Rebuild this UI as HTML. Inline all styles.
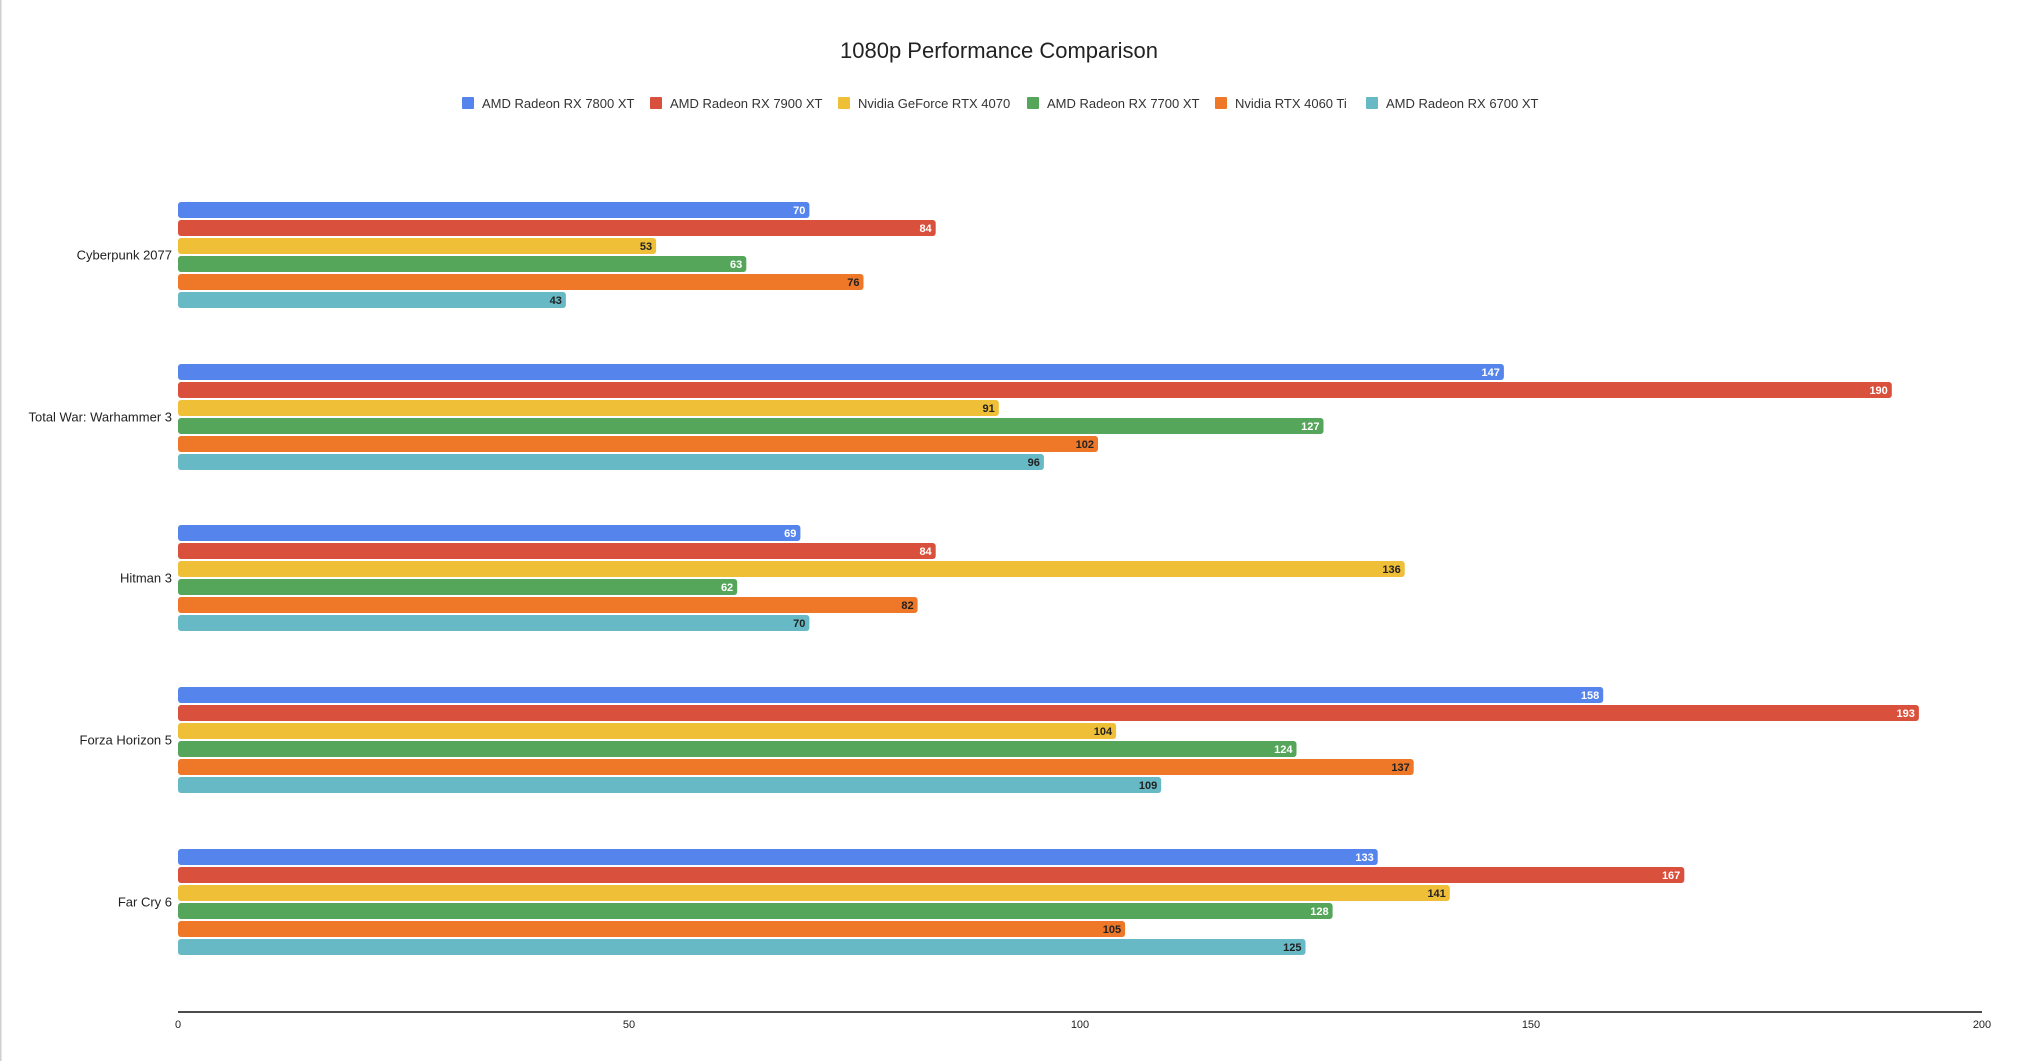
<!DOCTYPE html>
<html><head><meta charset="utf-8"><style>
html,body{margin:0;padding:0;background:#fff;}
svg{display:block;font-family:"Liberation Sans",sans-serif;}
.v{font-size:11px;font-weight:bold;text-anchor:end;}
.w{fill:#fff}.d{fill:#222}
.c{font-size:13px;text-anchor:end;fill:#222}
</style></head><body>
<svg width="2019" height="1061" xmlns="http://www.w3.org/2000/svg">
<rect x="0" y="0" width="2019" height="1061" fill="#fff"/>
<rect x="0" y="0" width="1.5" height="1061" fill="#cfcfcf"/>
<text x="999" y="58" font-size="22" text-anchor="middle" fill="#222">1080p Performance Comparison</text>
<g font-size="13" fill="#333">
<rect x="462" y="97" width="12" height="12" rx="1" fill="#5484ec"/><text x="482" y="108">AMD Radeon RX 7800 XT</text>
<rect x="650" y="97" width="12" height="12" rx="1" fill="#d9503c"/><text x="670" y="108">AMD Radeon RX 7900 XT</text>
<rect x="838" y="97" width="12" height="12" rx="1" fill="#efbf38"/><text x="858" y="108">Nvidia GeForce RTX 4070</text>
<rect x="1027" y="97" width="12" height="12" rx="1" fill="#55a55a"/><text x="1047" y="108">AMD Radeon RX 7700 XT</text>
<rect x="1215" y="97" width="12" height="12" rx="1" fill="#ee7728"/><text x="1235" y="108">Nvidia RTX 4060 Ti</text>
<rect x="1366" y="97" width="12" height="12" rx="1" fill="#66b9c5"/><text x="1386" y="108">AMD Radeon RX 6700 XT</text>
</g>

<text class="c" x="172" y="259.5">Cyberpunk 2077</text>
<rect x="178" y="202" width="631.4" height="16" rx="3" fill="#5484ec"/><text class="v w" x="805.4" y="214">70</text>
<rect x="178" y="220" width="757.7" height="16" rx="3" fill="#d9503c"/><text class="v w" x="931.7" y="232">84</text>
<rect x="178" y="238" width="478.1" height="16" rx="3" fill="#efbf38"/><text class="v d" x="652.1" y="250">53</text>
<rect x="178" y="256" width="568.3" height="16" rx="3" fill="#55a55a"/><text class="v w" x="742.3" y="268">63</text>
<rect x="178" y="274" width="685.5" height="16" rx="3" fill="#ee7728"/><text class="v d" x="859.5" y="286">76</text>
<rect x="178" y="292" width="387.9" height="16" rx="3" fill="#66b9c5"/><text class="v d" x="561.9" y="304">43</text>

<text class="c" x="172" y="421.5">Total War: Warhammer 3</text>
<rect x="178" y="364" width="1325.9" height="16" rx="3" fill="#5484ec"/><text class="v w" x="1499.9" y="376">147</text>
<rect x="178" y="382" width="1713.8" height="16" rx="3" fill="#d9503c"/><text class="v w" x="1887.8" y="394">190</text>
<rect x="178" y="400" width="820.8" height="16" rx="3" fill="#efbf38"/><text class="v d" x="994.8" y="412">91</text>
<rect x="178" y="418" width="1145.5" height="16" rx="3" fill="#55a55a"/><text class="v w" x="1319.5" y="430">127</text>
<rect x="178" y="436" width="920.0" height="16" rx="3" fill="#ee7728"/><text class="v d" x="1094" y="448">102</text>
<rect x="178" y="454" width="865.9" height="16" rx="3" fill="#66b9c5"/><text class="v d" x="1039.9" y="466">96</text>

<text class="c" x="172" y="582.5">Hitman 3</text>
<rect x="178" y="525" width="622.4" height="16" rx="3" fill="#5484ec"/><text class="v w" x="796.4" y="537">69</text>
<rect x="178" y="543" width="757.7" height="16" rx="3" fill="#d9503c"/><text class="v w" x="931.7" y="555">84</text>
<rect x="178" y="561" width="1226.7" height="16" rx="3" fill="#efbf38"/><text class="v d" x="1400.7" y="573">136</text>
<rect x="178" y="579" width="559.2" height="16" rx="3" fill="#55a55a"/><text class="v w" x="733.2" y="591">62</text>
<rect x="178" y="597" width="739.6" height="16" rx="3" fill="#ee7728"/><text class="v d" x="913.6" y="609">82</text>
<rect x="178" y="615" width="631.4" height="16" rx="3" fill="#66b9c5"/><text class="v d" x="805.4" y="627">70</text>

<text class="c" x="172" y="744.5">Forza Horizon 5</text>
<rect x="178" y="687" width="1425.2" height="16" rx="3" fill="#5484ec"/><text class="v w" x="1599.2" y="699">158</text>
<rect x="178" y="705" width="1740.9" height="16" rx="3" fill="#d9503c"/><text class="v w" x="1914.9" y="717">193</text>
<rect x="178" y="723" width="938.1" height="16" rx="3" fill="#efbf38"/><text class="v d" x="1112.1" y="735">104</text>
<rect x="178" y="741" width="1118.5" height="16" rx="3" fill="#55a55a"/><text class="v w" x="1292.5" y="753">124</text>
<rect x="178" y="759" width="1235.7" height="16" rx="3" fill="#ee7728"/><text class="v d" x="1409.7" y="771">137</text>
<rect x="178" y="777" width="983.2" height="16" rx="3" fill="#66b9c5"/><text class="v d" x="1157.2" y="789">109</text>

<text class="c" x="172" y="906.5">Far Cry 6</text>
<rect x="178" y="849" width="1199.7" height="16" rx="3" fill="#5484ec"/><text class="v w" x="1373.7" y="861">133</text>
<rect x="178" y="867" width="1506.3" height="16" rx="3" fill="#d9503c"/><text class="v w" x="1680.3" y="879">167</text>
<rect x="178" y="885" width="1271.8" height="16" rx="3" fill="#efbf38"/><text class="v d" x="1445.8" y="897">141</text>
<rect x="178" y="903" width="1154.6" height="16" rx="3" fill="#55a55a"/><text class="v w" x="1328.6" y="915">128</text>
<rect x="178" y="921" width="947.1" height="16" rx="3" fill="#ee7728"/><text class="v d" x="1121.1" y="933">105</text>
<rect x="178" y="939" width="1127.5" height="16" rx="3" fill="#66b9c5"/><text class="v d" x="1301.5" y="951">125</text>

<line x1="178" y1="1012" x2="1982" y2="1012" stroke="#111" stroke-width="1.5"/>
<g font-size="11" fill="#222" text-anchor="middle">
<text x="178" y="1028">0</text><text x="629" y="1028">50</text><text x="1080" y="1028">100</text><text x="1531" y="1028">150</text><text x="1982" y="1028">200</text>
</g>
</svg>
</body></html>
